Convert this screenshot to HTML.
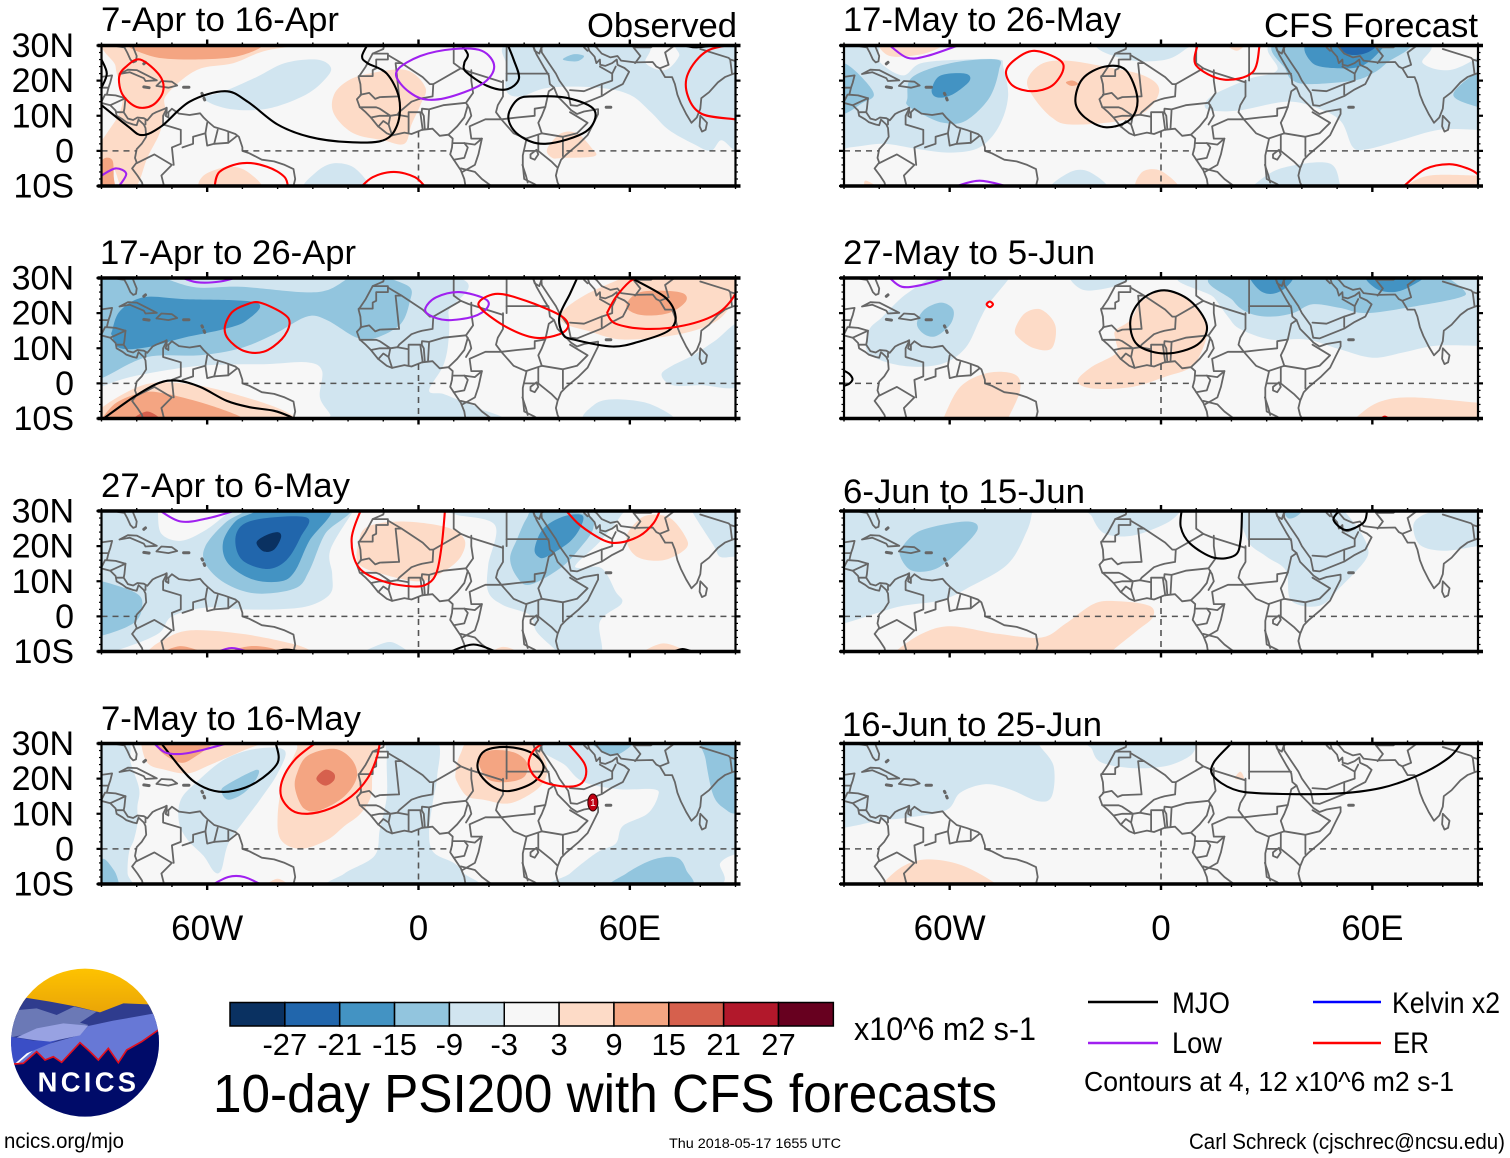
<!DOCTYPE html>
<html lang="en">
<head>
<meta charset="utf-8">
<title>10-day PSI200 with CFS forecasts</title>
<style>
html,body{margin:0;padding:0;background:#fff;}
svg{display:block;}
text{font-family:"Liberation Sans",sans-serif;fill:#000;}
</style>
</head>
<body>
<svg id="chart" xmlns="http://www.w3.org/2000/svg" width="1510" height="1158" viewBox="0 0 1510 1158">
<rect width="1510" height="1158" fill="#fff"/>
<g id="panels"></g>
<g id="colorbar"></g>
<text x="587" y="37" font-size="34.5" textLength="150" lengthAdjust="spacingAndGlyphs">Observed</text>
<text x="1264" y="37" font-size="34.5" textLength="214" lengthAdjust="spacingAndGlyphs">CFS Forecast</text>
<text x="854" y="1040" font-size="32" textLength="182" lengthAdjust="spacingAndGlyphs">x10^6 m2 s-1</text>
<text x="213" y="1112" font-size="54" textLength="784" lengthAdjust="spacingAndGlyphs">10-day PSI200 with CFS forecasts</text>
<g>
<line x1="1088" x2="1158" y1="1002" y2="1002" stroke="#000" stroke-width="2.4"/>
<text x="1172" y="1013" font-size="30" textLength="58" lengthAdjust="spacingAndGlyphs">MJO</text>
<line x1="1088" x2="1158" y1="1043" y2="1043" stroke="#a020f0" stroke-width="2.4"/>
<text x="1172" y="1053" font-size="30" textLength="50" lengthAdjust="spacingAndGlyphs">Low</text>
<line x1="1313" x2="1381" y1="1002" y2="1002" stroke="#0000ff" stroke-width="2.4"/>
<text x="1392" y="1013" font-size="30" textLength="108" lengthAdjust="spacingAndGlyphs">Kelvin x2</text>
<line x1="1313" x2="1381" y1="1043" y2="1043" stroke="#ff0000" stroke-width="2.4"/>
<text x="1393" y="1053" font-size="30" textLength="36" lengthAdjust="spacingAndGlyphs">ER</text>
<text x="1084" y="1091" font-size="28" textLength="370" lengthAdjust="spacingAndGlyphs">Contours at 4, 12 x10^6 m2 s-1</text>
</g>
<text x="4" y="1148" font-size="21" textLength="120" lengthAdjust="spacingAndGlyphs">ncics.org/mjo</text>
<text x="669" y="1148" font-size="14" textLength="172" lengthAdjust="spacingAndGlyphs">Thu 2018-05-17 1655 UTC</text>
<text x="1189" y="1149" font-size="22" textLength="316" lengthAdjust="spacingAndGlyphs">Carl Schreck (cjschrec@ncsu.edu)</text>
<g transform="translate(0,960) scale(0.33333)">
<defs>
<clipPath id="logoClip"><circle cx="255" cy="248" r="222"/></clipPath>
<linearGradient id="gold" x1="0" y1="0" x2="0" y2="1"><stop offset="0" stop-color="#ffc400"/><stop offset="1" stop-color="#e8a208"/></linearGradient>
</defs>
<g clip-path="url(#logoClip)">
<rect x="20" y="20" width="470" height="150" fill="url(#gold)"/>
<polygon fill="#2f3c8e" points="20,160 75,113 150,125 230,140 300,157 370,130 445,133 490,170 490,260 20,260"/>
<polygon fill="#6b79b6" points="20,235 55,150 110,145 170,165 222,140 290,155 240,188 265,195 100,218"/>
<polygon fill="#6778d6" points="265,198 340,182 465,160 490,190 490,330 30,330 110,262 240,225"/>
<polygon fill="#3a4ec6" points="20,228 100,242 175,240 80,280 35,320 20,320"/>
<polygon fill="#98a2e2" points="50,232 110,205 190,190 265,197 240,226 150,245 100,240"/>
<polygon fill="#000b69" points="20,312 42,312 70,310 110,275 135,300 160,290 185,307 240,248 270,275 295,300 325,265 355,308 380,270 425,245 475,210 490,200 490,480 20,480"/>
<polyline fill="none" stroke="#e01020" stroke-width="5" points="42,312 70,310 110,275 135,300 160,290 185,307 240,248 270,275 295,300 325,265 355,308 380,270 425,245 475,210"/>
<text x="113" y="395" font-size="82" font-weight="700" textLength="295" lengthAdjust="spacing" style="fill:#fff">NCICS</text>
</g>
</g>
</svg>
<script>
/* ---------- scale and axis data ---------- */
const levelBounds = [-27,-21,-15,-9,-3,3,9,15,21,27];
const levelColors = ['#0a3161','#2166ac','#4393c3','#92c5de','#d1e5f0','#f7f7f7','#fddbc7','#f4a582','#d6604d','#b2182b','#67001f'];
const latTicks = [30,20,10,0,-10];
const lonTicks = [-60,0,60];
const waveColors = {MJO:'#000000',Low:'#a020f0',Kelvin:'#0000ff',ER:'#ff0000'};
const panelTitles = ['7-Apr to 16-Apr','17-Apr to 26-Apr','27-Apr to 6-May','7-May to 16-May','17-May to 26-May','27-May to 5-Jun','6-Jun to 15-Jun','16-Jun to 25-Jun'];

/* ---------- geography: [lon,lat] ---------- */
const coastlines = [
[[-90,30],[-88,30.3],[-85,29.7],[-83.5,29.5],[-82.7,28],[-81.8,26],[-81,25.2],[-80.2,25.5],[-80,27],[-81,29.5],[-81.4,31]],
[[-90.4,21],[-87,21.5],[-87.5,19.5],[-88,18],[-88.5,16],[-86,15.8],[-83.2,15],[-83.5,12],[-83.7,11],[-82.5,9.2],[-81,8.8],[-79.8,9.5],[-78,9.3],[-77,8.7],[-75.5,10.5],[-74.5,11],[-72,12],[-71.5,12.3],[-71.5,11],[-71.8,10],[-71,9.5],[-71,11],[-70,12],[-68,10.6],[-65,10.2],[-62,10.7],[-61,9.5],[-60,8.5],[-58,6.8],[-55,5.9],[-52,4.8],[-51,4],[-50,1],[-50,0],[-48,-0.7],[-44.5,-2.5],[-41,-3],[-38,-4],[-35.5,-5.2],[-35,-8],[-35.5,-10],[-36,-11]],
[[-91,13.9],[-87.5,13],[-86,11.5],[-85.7,10],[-84,9],[-83,8.2],[-81,7.5],[-80,7.3],[-79.5,8.9],[-78,7.5],[-77.5,6.5],[-77.3,4],[-78.6,2],[-80,0.5],[-80.5,-2],[-80,-3.3],[-81.3,-5],[-79.8,-7],[-78.5,-9],[-78,-11]],
[[-84.9,21.9],[-82.5,23.1],[-80,23],[-77,21.5],[-74.3,20.1],[-77.5,19.9],[-78,20.7],[-82,22.4],[-84.9,21.9]],
[[-74.4,18.5],[-73,19.9],[-70,19.7],[-68.5,18.6],[-71,18],[-74.4,18.5]],
[[-9.5,31],[-10,29],[-13,27.7],[-15,24],[-17,21],[-16.5,19],[-16.3,16],[-17.5,14.7],[-16.7,12.5],[-15,11],[-13.5,9.5],[-11.5,7],[-9,5],[-7.5,4.4],[-4,5.2],[-2,4.8],[1,6],[4,6.3],[6,4.3],[8.5,4.6],[9.7,3.5],[9.5,1],[9,-1],[11,-4],[12,-5.5],[13,-8],[13.5,-11]],
[[32.5,31],[32.5,30],[33.5,27.5],[35.5,24],[37,21.5],[37.3,19],[38.5,18],[39.5,15.5],[42,13],[43.3,11.6],[45,10.5],[47,11.2],[51,11.9],[51,10.5],[49.5,7.5],[48,4.5],[45.5,2],[42,-1],[40.5,-2.5],[39.5,-5],[39,-7],[39.5,-9],[40.5,-11]],
[[32.5,30],[33,28.5],[34.3,27.7],[34.9,29.5],[35,28],[37,25],[39,22],[40,20],[42.5,16.5],[43.2,13],[45,12.8],[48,14],[52,15.6],[55,17.5],[58,19],[59.8,22.5],[58.5,23.6],[56.5,24.5],[56.3,26],[55,25],[53,24.2],[51.6,24.5],[51.5,26],[50.5,25],[50,26.8],[48.5,28.5],[48,30],[48.8,30.5],[50.5,29.5],[52,27.7],[54.5,26.6],[56.5,27],[57.5,25.7],[61.5,25.2],[66.5,25.3],[67.5,24],[68.5,23.5],[70,21],[72,21],[72.8,19],[73.5,16],[74.5,13.5],[76,10.5],[77.5,8],[79,9.5],[80,12],[80.3,15],[82.5,16.7],[85,19.5],[87,21],[89,21.8],[91,22.5]],
[[80,10],[81.9,8],[81.5,6],[80.5,5.5],[79.8,7],[80,10]],
[[31.8,-1],[33.5,0.3],[34,-1],[33,-2.5],[31.8,-2],[31.8,-1]],
[[29.5,-4],[30.5,-7],[31,-9]]
];
const islands = [
[[-78,18.2],[-76.5,18]],[[-66.7,18.1],[-65.2,18.1]],[[-78,24.8],[-77.5,25.2]],[[-61.5,16.4],[-61.3,16]],[[-60.9,15],[-60.7,14.5]],[[53.3,12.4],[54.6,12.4]]
];
const borders = [
[[-13,27.7],[-8.7,27.7],[-8.7,26],[-12,26],[-12,23.5],[-13,23],[-13,21.3],[-17,21.3]],
[[-8.7,27.3],[-4.8,25],[1.2,21],[3.2,19],[4.2,19],[12,23.5],[14.2,22.6],[24,19.5]],
[[12,23.5],[10,25],[10,31]],[[25,31],[25,20]],[[25,22],[36.9,22]],
[[-4.8,25],[-6.5,25],[-5.5,15.5],[-11,15.3],[-12.3,14.8],[-14,16.5],[-16.5,16]],
[[24,20],[24,15.5],[22.5,13],[22,11],[23.5,9]],
[[4.2,19],[4,15.5],[1,15],[0,14.7],[-2,14],[-5.5,11],[-6,10.3]],
[[3,11.8],[7,13],[13.5,13.7]],[[15,23],[15,20],[15.5,16.5],[13.5,13.7],[14.5,12],[15,10],[13.5,7.5]],
[[2.7,6.3],[3,11.8],[1,12],[0.9,11]],[[8.6,4.7],[11,7],[13,9.5],[14,13]],
[[1.2,6],[0.5,11],[-2.8,11],[-2.8,5.2]],[[1.8,6.2],[1.5,10],[0.9,11]],
[[-7.5,4.4],[-8.5,7.5],[-8,10],[-6,10.3],[-2.8,9.7]],
[[-13.5,9.5],[-11,10],[-8,10],[-11,12],[-12,12.4],[-16.7,12.4]],[[-11.4,6.9],[-10,8.5],[-8.5,7.5]],
[[9.8,2.2],[13,2.2],[16,1.8],[18,3.5],[15,3.5],[14.5,7],[19,9],[23.5,9],[27,5],[30.5,3.5],[35,5],[41,4],[45,5],[48,8],[43,11]],
[[18,3.5],[17,-1],[16,-4],[12.5,-6]],[[12,-5],[16,-6],[18,-8],[22,-11]],[[10,-2.5],[13,-2],[14,1],[13,2.2]],
[[23.5,9],[28,9.5],[33,10],[33,12],[36,12.5],[37,17],[38.5,18]],[[36,12.5],[35,10],[34,8],[35,5]],
[[41,4],[41,-1.5]],[[34,4.5],[34,0],[37.7,-3],[39.3,-4.6]],[[30.7,3.5],[29.6,-1.3],[29.6,-4],[30,-8],[33,-9.5],[35,-11]],[[30,0],[34,0]],
[[34.9,29.5],[39,32]],[[47,29.5],[48,28.5]],[[51.5,24],[55,22],[55,20],[52,19],[52,16]],[[43,17.3],[47,17],[52,19]],[[56,24],[55,22]],
[[61.5,25],[63,27],[61,29.5],[66,29.5],[70,33]],[[68.5,23.5],[71,24.5],[70,28],[74,31]],[[80,29],[88,26.5],[88.5,26],[92,25]],[[88.5,26],[89,22]],[[48,30],[46.5,33]],
[[-71.5,12],[-72.5,10],[-72.5,7.5],[-67.5,6],[-67.5,2],[-70,1],[-69.5,-4]],[[-80,-3.5],[-75,-1],[-70,-4],[-73,-7],[-72,-11]],
[[-67,1],[-64,2],[-64,4],[-60.5,5],[-60,8]],[[-57,6],[-58,2]],[[-54,5.5],[-54,2.3]],[[-51.5,4.3],[-54,2.3],[-58,2],[-60,1.5],[-60.5,5]],
[[-77.5,8.6],[-77.5,7.5]],[[-83.7,11],[-85.7,11]],[[-87.5,13],[-83.2,15]],[[-90,14],[-89,16],[-88.5,16]],[[-91,18],[-89,18],[-88,18]]
];
const equatorSegments = [[-90,-80],[-50,9.5],[42,90]];
const meridianSegment = [5.5,-10];

/* ---------- PSI200 fills: [value, [[lon,lat],...]] ---------- */
const fillsA = [
[6,[[-85,32],[-25,32],[-43,28.6],[-52.5,25],[-63,23],[-71.5,16],[-72,11.5],[-73.5,5],[-77,-2],[-80,-10],[-84,-11],[-86.5,-5],[-90,-2],[-91,1],[-88.5,5],[-85,10.5],[-84,16],[-86,24]]],
[12,[[-81,31],[-46,31],[-51,27],[-65,26],[-76,27]]],
[12,[[-90,-3],[-87,-2.5],[-86.5,-7.5],[-86.5,-11],[-91,-11]]],
[-6,[[-25,24],[-29,26],[-38,25],[-46,21],[-55,17],[-61,15],[-54,12],[-43,12],[-32,16],[-26,21]]],
[6,[[-14,22],[-3.5,23],[2,18],[0.5,13],[-2,7.5],[-4,2],[-10,3],[-18.5,5],[-24,10.5],[-24,16],[-20,20]]],
[-6,[[27,31],[25,24],[25,17],[29,15.5],[37,18],[51,18],[60,16],[66,11],[71,6],[78,2],[83,0],[86,3],[90,0],[94,0],[94,31],[74,31],[74,27],[70,23],[64.5,25],[63,31]]],
[-12,[[41,26],[44,27.5],[47,27],[45,25.5]]],
[-6,[[-32,-11],[-29,-6],[-24,-3.5],[-18,-5],[-15,-11]]],
[6,[[-61,-11],[-61,-7],[-54,-4.5],[-48.5,-6],[-45,-11]]],
[6,[[36.5,0.5],[40.5,5],[45,5],[49,1],[50,-1.5],[41,-2],[38,-2]]]
];
const fillsB = [
[-6,[[6,31],[8.5,20],[8.5,12],[7,5],[3,-2],[7,-3],[12,-5],[17,-7],[22,-11],[-25,-11.5],[-25,-9],[-28,-4],[-27.4,3.6],[-31.7,6],[-43,5.5],[-62,5],[-81,2],[-90.3,-1],[-95,-2],[-95,31]]],
[-12,[[-8,30],[-2.4,27.3],[-2.4,23.5],[-5,17],[-12,13],[-17.5,13],[-26,18],[-31.7,19],[-41,14],[-50.6,10],[-62,8],[-77,7.5],[-89.4,1.7],[-95,0],[-95,31],[-72,31],[-72,30],[-63,27.3],[-50.6,27.5],[-33.5,26],[-26,26.5],[-20,30],[-19,31.5],[-8,31.5]]],
[-18,[[-87,15],[-84.7,20.7],[-78,24.5],[-66.7,24],[-46,23],[-48.7,18],[-55,15.5],[-66.7,13],[-77,10.3],[-84.7,10],[-87,13.5]]],
[-6,[[48,-11],[50,-6],[56,-4.5],[66,-6],[72,-11]]],
[-6,[[69,2.5],[72,5],[78,8],[84,12],[92,17],[92,0],[80,-0.5],[72,-0.5]]],
[6,[[-90,-7],[-81,-1.6],[-73.3,0.3],[-62,-0.7],[-50.6,-3.5],[-40,-7],[-34.5,-10],[-34,-11.5],[-93,-11.5]]],
[12,[[-90,-10],[-85.6,-5.4],[-78,-2.5],[-71.4,-3],[-60,-6],[-50.6,-9.5],[-50,-11.5],[-92,-11.5]]],
[18,[[-81,-10],[-77,-8],[-73.3,-10],[-73,-11.5],[-81,-11.5]]],
[6,[[40.5,20],[47,25],[58,30],[62,31],[92,31],[90,25],[85,18],[74,14],[58,12.5],[48,15],[41.5,17]]],
[12,[[59,22],[63,26],[74,26],[76,23.5],[71,20],[63,19.5]]]
];
const fillsC = [
[-6,[[-90,-10.5],[-85,-9.5],[-74,-5],[-70,0],[-60.5,2.5],[-50,2],[-40,2],[-31,3],[-25,6.5],[-24.5,12],[-25,19],[-18.5,30],[-18,31],[-52,31],[-54,29.5],[-60.5,24.5],[-67.5,21.5],[-73,23.5],[-74,29.5],[-74,31],[-95,31],[-95,-11]]],
[-12,[[-90,10],[-80,6.5],[-78.5,2.5],[-81,-2],[-90,-5.5],[-95,-5.5],[-95,10]]],
[-12,[[-60.5,20],[-55,26.5],[-50,29.5],[-48,31],[-20,31],[-26.5,23.5],[-31,13],[-35,8],[-46,6.5],[-55,9.5],[-60.5,15]]],
[-18,[[-55.5,21],[-52,27],[-47,29.5],[-44,31],[-25,31],[-31,21.5],[-35,13],[-39,10],[-47,10.5],[-54,15]]],
[-24,[[-52,21.5],[-50,26],[-43,28],[-31.5,28],[-33.5,22.5],[-37.5,16],[-43,13.5],[-50,16]]],
[-30,[[-46,21],[-43.5,23],[-40,24],[-39,22.5],[-41,19],[-44,18.5]]],
[-6,[[9.8,31],[10.5,29],[21.7,26],[19.8,14.6],[19.8,7],[24,3.2],[31.6,0.4],[33.5,-4.3],[38.3,-9],[40,-10.5],[40,-11.5],[51.5,-11.5],[51.5,-1.5],[57.7,3.7],[56,7],[52,13.7],[45.8,13.7],[44.9,15],[51.5,21.3],[57.7,29],[58,31.5]]],
[-6,[[78,29.3],[83.7,20.3],[85.6,17],[89.4,17],[94,17],[94,31],[78,31]]],
[-12,[[26,16.5],[28,22],[30.7,27.9],[33.5,30],[47.7,29],[49.6,25],[45.8,19.4],[40.2,13.7],[31.6,9],[27.9,11.3]]],
[-18,[[33,19.4],[35.4,25],[41,28.4],[46.3,28.9],[46.3,26],[43,21.3],[36.4,17],[34,17]]],
[6,[[-17,21],[-14.5,25.5],[-5,27],[7.5,25.5],[13,22],[12,17],[7.5,13],[0.5,10],[-10,12],[-17,15]]],
[6,[[59,22.2],[62,27],[65.7,28.9],[71.4,28],[75.6,23],[76,19.4],[69.5,16],[62,17]]],
[6,[[-77,-10],[-73,-7],[-65,-4],[-50,-5],[-35,-8],[-29.5,-10.5],[-29,-11.5],[-78,-11.5]]],
[12,[[-72,-10.5],[-68,-8.5],[-63,-9.5],[-60,-11]]],
[12,[[-52,-10],[-48,-8.5],[-42,-9],[-38,-11]]],
[6,[[63,-10.5],[69.5,-7.7],[76,-10],[76,-11.5],[63,-11.5]]],
[6,[[20,-10.5],[24,-8.7],[28,-10],[28,-11.5],[20,-11.5]]],
[-6,[[-16,-11],[-11,-8],[-7,-7.5],[-3,-11]]]
];
const fillsD = [
[-6,[[-83,31],[-81.7,24.5],[-79.3,17],[-79.8,12],[-79.8,7.3],[-80.8,2.6],[-82.2,-1],[-82.6,-7],[-81.7,-11],[-95,-11],[-95,31]]],
[-12,[[-90,-3],[-86.5,-6],[-85,-10],[-85,-11.5],[-92,-11.5]]],
[-6,[[-38,28],[-46,28.5],[-55,25.5],[-63,19],[-67.5,14],[-68,7.5],[-65.5,2.5],[-61,-2],[-58,-6.5],[-56,-6],[-54,1.5],[-49.5,8],[-45,14],[-40,21.5]]],
[-12,[[-56,16.5],[-54,18.5],[-46,22.5],[-46,20],[-49.5,16],[-54,14]]],
[6,[[-79,31],[-77,24.5],[-72,22.5],[-65.5,21.5],[-59,24],[-48.5,28.5],[-43,30.5],[-43,32],[-79,32]]],
[12,[[-75,31],[-73,27.5],[-67.5,24.5],[-63,26.5],[-57,31],[-57,32],[-75,32]]],
[6,[[-34.5,28.5],[-38.5,19],[-40,9],[-39,2.5],[-33.5,0],[-26,2.5],[-21,6.5],[-16.5,10],[-13.5,15],[-13,21.5],[-11,30],[-11,32],[-34,32]]],
[12,[[-34.5,21.5],[-31.5,26.5],[-24,28.5],[-19,25.5],[-17.5,20.5],[-21,15],[-28,11],[-32.5,11.5],[-35,17]]],
[18,[[-29,20],[-26.5,22.5],[-24,21.5],[-24,19.5],[-26.5,18]]],
[6,[[-43.5,-10.5],[-40,-8.5],[-36.5,-10.5],[-37,-11.5],[-43,-11.5]]],
[-6,[[-24,-11],[-21,-7],[-12.5,-2],[-11,5.5],[-9,15],[-9,25.5],[-8,31],[5,31],[5.3,20.7],[4,13],[3,4.5],[4.3,-1],[10,-4],[13,-7],[15,-11]]],
[-6,[[36,31],[42,23.5],[47,19],[57,17],[66.8,17],[68,15],[65,10],[58,6.5],[56,1.5],[50.7,-1],[43,-7],[39,-11],[83,-11],[85.7,-4],[90,-1.5],[94,-1],[94,31]]],
[-12,[[81,31],[81.5,25.5],[83.8,15],[87.5,11],[90,10],[94,10],[94,31]]],
[-12,[[49,31],[53.5,27],[57,27],[61,31]]],
[-12,[[55,-11],[59,-7],[66.8,-3],[73.4,-2.5],[76,-6],[76.7,-11]]],
[6,[[10.5,21.6],[11.9,27],[15.7,31],[32.7,31],[35.5,26.5],[36.5,21.5],[33.7,17],[26,13],[18.5,14],[13.8,15],[11,19]]],
[12,[[17,25.5],[20.4,28],[27,27.5],[30.8,24.5],[30,20.5],[25,19],[19.5,20]]],
[6,[[89,-11.5],[90,-9],[92,-9],[92,-11.5]]]
];
const fillsE = [
[-6,[[-95,31],[-81,31],[-80,25.5],[-73.3,21.5],[-68,25],[-55.6,26],[-46,26],[-44.8,24],[-43.4,15.5],[-46,7],[-51.5,1],[-59.7,-0.5],[-69,0.5],[-78.8,2],[-88.3,1],[-95,1]]],
[-6,[[-16,31],[-17,28.5],[-8,25.7],[1.5,26],[7,29],[8,31]]],
[-12,[[-72,15],[-70.6,21],[-59.7,25],[-46.8,26],[-46,23],[-48.8,15],[-55.6,8.5],[-61.8,8],[-68,10.5],[-72,13]]],
[-12,[[-90,25],[-85,21],[-81.5,16],[-85,13.5],[-90,10.5],[-95,10.5],[-95,25]]],
[-18,[[-65,18],[-62.5,21.5],[-55.6,22],[-54.3,20],[-58.4,16.5],[-61.8,15.2],[-64.5,15.7]]],
[6,[[-81,31],[-77,27],[-68,27.5],[-61.8,30],[-61,32],[-81,32]]],
[6,[[-38,20],[-34,24.7],[-27,25.7],[-16,24],[-5,21.5],[-0.5,17.5],[-4,11.5],[-12,8.5],[-25.7,7.5],[-31,9.5],[-36,15]]],
[12,[[-27,19.5],[-25,20],[-23.5,19],[-25.5,18.5]]],
[-6,[[33,31],[33,23],[25,20.5],[15,16],[12.4,13],[14.5,11.5],[22,11.5],[35.5,14],[43.7,12.4],[51,8.5],[54.5,1],[58.6,0.5],[68,3],[79,6],[90,6],[94,6],[94,31],[90,26.7],[81.8,23],[74.3,25],[74,31]]],
[-12,[[35.5,23],[33.5,31],[69.5,31],[64,25],[60,22],[54.5,20],[42.3,19],[37.5,20]]],
[-12,[[90,22.5],[83,16],[90,12.5],[94,12.5],[94,22.5]]],
[-18,[[42.3,31],[43,25],[50.5,23.5],[57.3,24.3],[62.7,29],[63,31]]],
[-24,[[49.8,31],[53.2,27.5],[58.6,28],[61.4,31]]],
[-6,[[-31.2,-11],[-25.7,-6],[-20.3,-6],[-15.5,-11]]],
[-6,[[26,-10],[34,-5],[47.7,-3.5],[51,-10],[52,-11.5],[25,-11.5]]],
[6,[[-6.7,-11],[-5.3,-6],[0,-5.7],[5,-11]]],
[6,[[-84,-8.5],[-81,-10],[-82,-11],[-84,-11]]],
[6,[[69.5,-10],[76.3,-7],[90,-7],[94,-7],[94,-11.5],[69,-11.5]]],
[6,[[18,31],[21.5,28.5],[24,31]]]
];
const fillsF = [
[-6,[[-43.4,29.5],[-49,22.5],[-51.5,18],[-55.6,10],[-62.4,5.5],[-73.3,5],[-83,8.5],[-83,15],[-79,19],[-73.5,24.5],[-66.5,29.5],[-66,31],[-43,31]]],
[-6,[[-25.7,29.5],[-21.6,26.5],[-13.5,27.5],[-8,30],[-8,31.5],[-25,31.5]]],
[-12,[[-69.3,17],[-67.2,21],[-62.4,23],[-59,21],[-59.7,17],[-63.8,13.5],[-67.2,14]]],
[6,[[-13,15],[-8.7,18],[-5.3,23.5],[1.5,26.5],[9,22.5],[13,16],[11.7,9.5],[8.3,4.5],[1.5,2],[-8,-1],[-19,-1.5],[-23.7,0.5],[-20,4.5],[-12.8,8.5],[-12.8,12]]],
[6,[[-41.4,15.5],[-38.6,20],[-34,21],[-30,16.5],[-31,10],[-36,10],[-40.5,13]]],
[6,[[-62,-10.5],[-57,-1],[-49,3],[-41.4,2.5],[-40,-2],[-43.4,-10],[-44,-11.5],[-62,-11.5]]],
[6,[[54.5,-10.5],[61.4,-5.5],[71,-4],[90,-5.5],[94,-5.5],[94,-11.5],[54,-11.5]]],
[-6,[[9.6,31],[15,24.5],[19,19],[22.4,15.5],[31,12.5],[41.3,12.5],[50.8,9.7],[60,7.3],[68.7,8.8],[78,10.7],[89.5,10.7],[94,10.7],[94,31]]],
[-12,[[17.2,31],[20.5,23.5],[25,20],[31,19],[37.5,20],[43,22.5],[50.8,21.5],[58.3,20],[72.5,22],[85,24.5],[86,26.5],[81,30.5],[80,31.5]]],
[-18,[[25.7,31],[28,26.5],[31.8,25.5],[35.7,27.5],[37,31]]],
[-18,[[58.8,31],[61,27],[66,26],[70.6,27.5],[74.4,31]]]
];
const fillsG = [
[-6,[[-36.6,29.5],[-38,24.5],[-43.4,15],[-54.3,8.4],[-62.4,4.6],[-74.7,2.7],[-90,-2],[-95,-2],[-95,31],[-36,31]]],
[-12,[[-73.3,20],[-68,24.5],[-55.6,27],[-52,25],[-57,19],[-63.8,13.6],[-70.6,13],[-74,17]]],
[-6,[[-19.6,28.4],[-16,23.6],[-8,23],[1.5,26.5],[5.6,30],[6,31.5],[-20,31.5]]],
[-6,[[25,31],[24.6,21.7],[30,17],[35.5,13],[37,4.5],[45,3],[51,8.4],[58,16],[58.6,20],[56,25],[52,30],[51,31]]],
[-12,[[35,31],[36,28],[38.5,28.5],[40.5,31]]],
[-6,[[71.6,25.5],[73.6,28.4],[79,30],[94,31],[94,20],[90,20],[80.4,18.7],[73.6,20.3]]],
[6,[[-75.4,-10],[-68,-5],[-59.7,-2.8],[-46,-5],[-33.9,-6],[-27,-2],[-19,3.6],[-12,4.3],[-3.3,3],[-2.3,-0.2],[-6.7,-4],[-14,-10],[-14,-11.5],[-76,-11.5]]]
];
const fillsH = [
[-6,[[-34.5,29.5],[-30.5,23.6],[-31,15],[-35,13.6],[-43,17],[-50,18.4],[-57,16],[-61,11],[-72,8.9],[-80,8],[-90,6],[-95,6],[-95,31],[-34,31]]],
[-6,[[-19.6,28.4],[-16.9,24.6],[-8,23],[1.5,23.6],[8.3,26.5],[10.3,30],[11,31.5],[-20,31.5]]],
[6,[[-78.8,-9.7],[-73.3,-5],[-66.5,-3],[-57,-4.5],[-47.5,-9.5],[-47,-11.5],[-79,-11.5]]],
[6,[[21,20],[22.5,22],[23.5,20]]]
];

/* ---------- wave contours: [wave, closed, [[lon,lat],...]] ---------- */
const contoursA = [
['MJO',0,[[-90,13],[-82.5,7],[-78.5,4.5],[-73,7],[-65,14],[-55,17],[-48.5,14],[-40,7.5],[-31,4],[-20,2.5],[-10,3],[-6,7.5],[-5.5,15],[-9,22],[-14.5,25],[-16,27],[-14,31]]],
['MJO',0,[[-90,26],[-88.5,22],[-90,18]]],
['MJO',0,[[25,31],[27,26],[28.5,20.5],[25,17.5],[19.5,18.5],[13.5,22.5],[13,25],[14,27.5],[11.5,31]]],
['MJO',1,[[32.5,15.5],[42.5,15],[50,11.5],[47.5,5.5],[36,2],[28.5,4.5],[25.5,9.5],[28,14.5]]],
['MJO',0,[[74,30.5],[79,29.5],[90,31]]],
['Low',1,[[-6,23],[0.5,27],[10,29],[18,28.5],[21.5,24],[18,19],[7.5,15],[0.5,15],[-5,19]]],
['Low',0,[[-90,-7],[-86,-5],[-83,-6.5],[-85,-10],[-86,-11]]],
['ER',1,[[-79,26],[-73.5,21.5],[-72.5,17],[-75.5,13],[-80,12.5],[-84,16],[-85,21],[-83,24]]],
['ER',0,[[91,30.5],[82,28.5],[76.5,22],[76.5,15.5],[80.5,10.5],[90,9],[95,8.5]]],
['ER',0,[[-58,-11],[-56.5,-6],[-50,-3.5],[-43,-4.5],[-38,-7.5],[-37,-11]]],
['ER',0,[[-17,-11],[-13,-7.5],[-7,-6],[-1,-7.5],[2.5,-11]]]
];
const contoursB = [
['Low',0,[[-68,30.5],[-63,28.8],[-56.3,29],[-50.6,30.5]]],
['ER',1,[[-45,23],[-38.3,19.8],[-36.6,17],[-38.8,12.6],[-44,9],[-49.7,9.3],[-54,12.6],[-55,16],[-53,20.2],[-49,22.4]]],
['Low',1,[[11.5,26],[19,24],[19.5,21.5],[15.5,19],[8,18],[3,19.5],[2,21.5],[5,24.5]]],
['ER',1,[[22.5,25.5],[30.5,23.5],[40,19.5],[42.5,16.5],[40,14],[33,13],[25,16],[18,21],[17.5,23.5]]],
['MJO',0,[[45.5,31],[43,25.5],[40,19],[41,14],[44,12.5],[55,10.5],[63,12],[71,15],[73,19],[70,24.5],[60.5,30],[59,31.5]]],
['ER',0,[[53.5,20],[56,24.5],[60,29],[63,30.5],[66,32]]],
['ER',0,[[91,30],[90,25.5],[85,20],[75.5,16.5],[64.5,15.5],[56,17],[53.5,20]]],
['MJO',0,[[-89.4,-10],[-81,-4],[-74,0],[-68.6,0.8],[-62,-1],[-54.4,-5],[-47.8,-6.8],[-41,-7.8],[-36.4,-9.5],[-34,-11]]]
];
const contoursC = [
['Low',0,[[-74,30.5],[-67.5,27],[-59.5,28],[-52.5,30]]],
['Low',0,[[-59,-11],[-53,-9],[-46,-11]]],
['ER',0,[[-16,31],[-16.5,30],[-19,22],[-17,14],[-10,10],[-1.5,8.5],[2.8,9.4],[5.2,12.7],[6.6,20.3],[7.5,30],[7.5,31]]],
['ER',0,[[41.6,30.5],[45.8,26],[52.5,21.7],[57.2,21],[62.9,23],[66.7,26.5],[68.5,30]]],
['MJO',0,[[-45,-11],[-37.5,-9.5],[-29.5,-11]]],
['MJO',0,[[8,-10.5],[15.6,-8],[23,-10.5]]],
['MJO',0,[[71.4,-10.5],[75,-9.3],[79,-10.5]]]
];
const contoursD = [
['MJO',0,[[-73,30],[-67.5,23],[-63.5,19],[-58,16.5],[-52.5,16.5],[-46,19],[-40,24.5],[-40.5,30]]],
['Low',0,[[-75.5,30.5],[-72,27.5],[-67.5,27],[-62,28],[-54.5,30]]],
['ER',0,[[-29.5,30],[-35,25.5],[-38.5,20],[-39,15],[-36,11],[-31.5,10],[-25,11.5],[-19,15],[-14.5,20],[-12,25.5],[-11,30]]],
['Low',0,[[-59,-10.5],[-54,-8],[-49.5,-8],[-44,-10.5]]],
['MJO',1,[[25,29],[31.8,27.5],[35.5,23.5],[32.7,19],[26,16.5],[21.4,17.5],[17.6,21],[16.8,24.5],[19,28]]],
['ER',0,[[36,30.5],[32.7,28],[31.3,24],[33.7,20],[39.4,18],[45,18],[47.4,20.5],[47,24.5],[42,30.5]]]
];
const contoursE = [
['Low',0,[[-77,30],[-72,26.5],[-66.5,27],[-57.7,30]]],
['Low',0,[[-58,-10],[-51.5,-8.5],[-44,-10]]],
['ER',1,[[-36,28.5],[-29,26],[-27.8,23],[-31,18.5],[-36.6,17],[-42,18.5],[-44,22.5],[-41.4,26]]],
['MJO',1,[[-16,24],[-10,23],[-6.7,15],[-8.7,9],[-15.5,6.7],[-21.6,9.5],[-24.3,14],[-22.3,20.5]]],
['ER',0,[[10.3,30],[10,24.3],[17.8,20.3],[26,22.4],[28,30]]],
['ER',0,[[69,-10],[75,-5.2],[81.8,-3.8],[87,-5],[90,-6.7],[93,-10]]]
];
const contoursF = [
['Low',0,[[-77,30],[-73.5,27.5],[-68,28],[-61,30]]],
['ER',1,[[-49.5,22.5],[-48.6,23.3],[-47.7,22.5],[-48.6,21.7]]],
['MJO',1,[[1,26.5],[8.3,23.5],[13,16.5],[10.3,11],[1.5,8.5],[-6.7,11],[-8.7,18],[-5.3,24]]],
['MJO',0,[[-90,3.6],[-88.5,2.7],[-87.6,1.2],[-88.5,-0.1],[-90,-0.7]]],
['ER',0,[[62,-10.5],[63.5,-9.5],[65.5,-10.5]]]
];
const contoursG = [
['MJO',0,[[6,31],[5.6,25.5],[8.3,20.7],[15,16.7],[21,17.4],[22.6,21.7],[23,30],[23,31]]],
['MJO',0,[[50.5,30],[49,27.4],[52.5,24.6],[57.3,26.5],[58.4,29.3],[58,31]]]
];
const contoursH = [
['MJO',0,[[20.5,31],[19.9,30],[15,24.6],[14.8,20.8],[20.5,17],[28.7,15.8],[49,15.7],[62.7,17.4],[73.6,21.2],[81.8,26],[85.2,30],[86,31]]]
];
const cyclonesD = [[49.5,13.2,'1']];

const panelFills = [fillsA,fillsB,fillsC,fillsD,fillsE,fillsF,fillsG,fillsH];
const panelContours = [contoursA,contoursB,contoursC,contoursD,contoursE,contoursF,contoursG,contoursH];
const panelCyclones = [[],[],[],cyclonesD,[],[],[],[]];

/* ---------- layout ---------- */
const NS = 'http://www.w3.org/2000/svg';
const colLeft = [101.5,844];
const rowTop = [45.5,278,511,743.5];
const mapW = 634, mapH = 140.5;
const titleLayout = [[101,31,238],[100,264,256],[101,497,249],[101,730,260],[843,31,278],[843,264,252],[843,503,242],[842,736,260]];

function el(tag,attrs,parent){
  const e = document.createElementNS(NS,tag);
  for(const k in attrs) e.setAttribute(k,attrs[k]);
  parent.appendChild(e);
  return e;
}
function levelColor(v){
  let i = levelBounds.findIndex(b => v < b);
  return levelColors[i < 0 ? levelColors.length-1 : i];
}
function smooth(px,closed){
  const n = px.length, g = i => closed ? px[(i+n)%n] : px[Math.max(0,Math.min(n-1,i))];
  let d = 'M'+px[0][0].toFixed(1)+' '+px[0][1].toFixed(1);
  const last = closed ? n : n-1;
  for(let i=0;i<last;i++){
    const p0=g(i-1),p1=g(i),p2=g(i+1),p3=g(i+2);
    d+='C'+(p1[0]+(p2[0]-p0[0])/6).toFixed(1)+' '+(p1[1]+(p2[1]-p0[1])/6).toFixed(1)+' '+
        (p2[0]-(p3[0]-p1[0])/6).toFixed(1)+' '+(p2[1]-(p3[1]-p1[1])/6).toFixed(1)+' '+
        p2[0].toFixed(1)+' '+p2[1].toFixed(1);
  }
  return d+(closed?'Z':'');
}
function lonLabel(v){ return v===0 ? '0' : Math.abs(v)+(v<0?'W':'E'); }
function latLabel(v){ return v===0 ? '0' : Math.abs(v)+(v<0?'S':'N'); }

const root = document.getElementById('panels');
const defs = el('defs',{},root);

panelTitles.forEach((title,p) => {
  const col = p<4 ? 0 : 1, row = p%4;
  const left = colLeft[col], top = rowTop[row];
  const x = lon => left + (lon+90)/180*mapW;
  const y = lat => top + (30-lat)/40*mapH;
  const project = pts => pts.map(q => [x(q[0]),y(q[1])]);
  const toPoints = line => project(line).map(q => q[0].toFixed(1)+','+q[1].toFixed(1)).join(' ');

  const g = el('g',{},root);
  
  

  const clip = el('clipPath',{id:'clip'+p},defs);
  el('rect',{x:left,y:top,width:mapW,height:mapH},clip);

  const inner = el('g',{'clip-path':'url(#clip'+p+')'},g);
  const bg = el('rect',{x:left,y:top,width:mapW,height:mapH,fill:levelColors[5]},inner);
  
  

  panelFills[p].forEach(f => {
    const shape = el('path',{d:smooth(project(f[1]),true),fill:levelColor(f[0])},inner);
    
    
  });

  const geo = el('g',{fill:'none',stroke:'#666','stroke-width':1.8,'stroke-linejoin':'round','stroke-linecap':'round'},inner);
  
  
  coastlines.concat(borders).forEach(line => {
    el('polyline',{points:toPoints(line)},geo);
  });
  islands.forEach(line => {
    el('polyline',{points:toPoints(line),'stroke-width':3},geo);
  });

  equatorSegments.forEach(s => {
    const eq = el('line',{x1:x(s[0]),x2:x(s[1]),y1:y(0),y2:y(0),stroke:'#555','stroke-width':1.6,'stroke-dasharray':'6 5'},inner);
    
    
  });
  const mer = el('line',{x1:x(0),x2:x(0),y1:y(meridianSegment[0]),y2:y(meridianSegment[1]),stroke:'#555','stroke-width':1.6,'stroke-dasharray':'6 5'},inner);
  
  

  panelContours[p].forEach(c => {
    const line = el('path',{d:smooth(project(c[2]),!!c[1]),fill:'none',stroke:waveColors[c[0]],'stroke-width':2.1},inner);
    
    
  });

  panelCyclones[p].forEach(c => {
    const storm = el('ellipse',{cx:x(c[0]),cy:y(c[1]),rx:5,ry:8.5,fill:'#c00012',stroke:'#300','stroke-width':1},inner);
    
    
    const num = el('text',{x:x(c[0]),y:y(c[1])+3.5,'font-size':10,'text-anchor':'middle',style:'fill:#fff'},inner);
    
    
    num.textContent = c[2];
  });

  const frame = el('g',{stroke:'#000',fill:'none'},g);
  
  
  el('line',{x1:left-4,x2:left+mapW+5,y1:top,y2:top,'stroke-width':3.4},frame);
  el('line',{x1:left-4,x2:left+mapW+5,y1:top+mapH,y2:top+mapH,'stroke-width':3.4},frame);
  el('line',{x1:left,x2:left,y1:top,y2:top+mapH,'stroke-width':2.2},frame);
  el('line',{x1:left+mapW,x2:left+mapW,y1:top,y2:top+mapH,'stroke-width':2.2},frame);
  for(let lon=-90;lon<=90;lon+=10){
    const major = lonTicks.indexOf(lon)>=0, len = major ? 6 : 3, w = major ? 2.4 : 1.4;
    el('line',{x1:x(lon),x2:x(lon),y1:top-len,y2:top,'stroke-width':w},frame);
    el('line',{x1:x(lon),x2:x(lon),y1:top+mapH,y2:top+mapH+len,'stroke-width':w},frame);
  }
  for(let lat=-10;lat<=30;lat+=2){
    const major = latTicks.indexOf(lat)>=0, len = major ? 5 : 2.5, w = major ? 2.2 : 1.2;
    el('line',{x1:left-len,x2:left,y1:y(lat),y2:y(lat),'stroke-width':w},frame);
    el('line',{x1:left+mapW,x2:left+mapW+len,y1:y(lat),y2:y(lat),'stroke-width':w},frame);
  }

  const tl = titleLayout[p];
  const tt = el('text',{x:tl[0],y:tl[1],'font-size':34.5,textLength:tl[2],lengthAdjust:'spacingAndGlyphs'},g);
  
  
  tt.textContent = title;

  if(col===0){
    latTicks.forEach(lat => {
      const t = el('text',{x:74,y:y(lat)+11.5,'font-size':34,'text-anchor':'end'},g);
      
      
      t.textContent = latLabel(lat);
    });
  }
  if(row===3){
    lonTicks.forEach(lon => {
      const t = el('text',{x:x(lon),y:940,'font-size':35,'text-anchor':'middle'},g);
      
      
      t.textContent = lonLabel(lon);
    });
  }
});

/* ---------- colorbar ---------- */
const bar = document.getElementById('colorbar');
const barLeft = 230, barTop = 1002.5, barH = 23.5, boxW = 54.85;
levelColors.forEach((c,i) => {
  const box = el('rect',{x:barLeft+i*boxW,y:barTop,width:boxW,height:barH,fill:c,stroke:'#000','stroke-width':1.5},bar);
  
  
});
levelBounds.forEach((b,i) => {
  const t = el('text',{x:barLeft+(i+1)*boxW,y:1055,'font-size':31,'text-anchor':'middle'},bar);
  
  
  t.textContent = b;
});
</script>
</body>
</html>
